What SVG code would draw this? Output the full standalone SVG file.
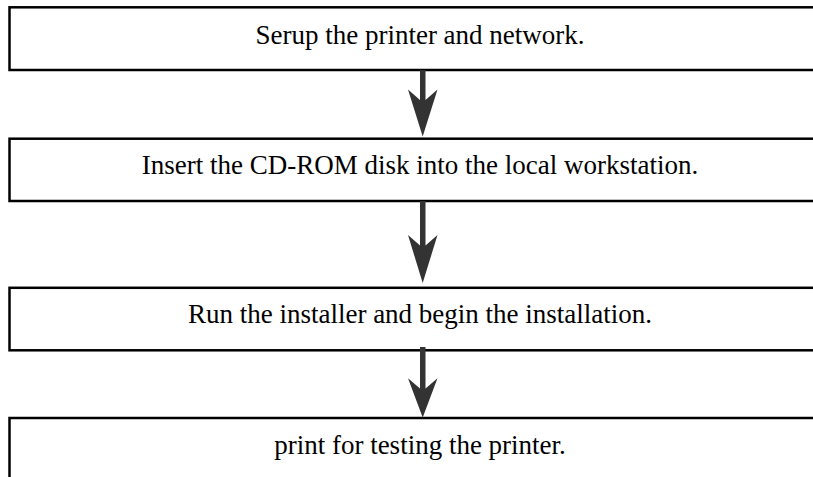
<svg xmlns="http://www.w3.org/2000/svg" width="813" height="477" viewBox="0 0 813 477">
<style>
.box{fill:#fff;stroke:#000;stroke-width:2.5}
.lbl{font-family:"Liberation Serif","Times New Roman",serif;font-size:27px;fill:#000;text-anchor:middle}
.arr{fill:#333;stroke:none}
</style>
<rect width="813" height="477" fill="#fff"/>
<g id="node1"><rect class="box" x="9.5" y="7.3" width="900" height="62.7"/><text class="lbl" x="420" y="44">Serup the printer and network.</text></g>
<g id="node2"><rect class="box" x="9.5" y="138.7" width="900" height="62.3"/><text class="lbl" x="420" y="174">Insert the CD-ROM disk into the local workstation.</text></g>
<g id="node3"><rect class="box" x="9.5" y="287.8" width="900" height="62.5"/><text class="lbl" x="420" y="323">Run the installer and begin the installation.</text></g>
<g id="node4"><rect class="box" x="9.5" y="418" width="900" height="100"/><text class="lbl" x="420" y="454">print for testing the printer.</text></g>
<g id="connectors">
<path class="arr" d="M420 70 H425.5 V100 L437.5 89.5 L422.7 136.5 L408 89.5 L420 100 Z"/>
<path class="arr" d="M420 201 H425.5 V245.5 L437.5 235 L422.7 283 L408 235 L420 245.5 Z"/>
<path class="arr" d="M420 347 H425.5 V388.5 L437.5 378.3 L422.7 417.5 L408 378.3 L420 388.5 Z"/>
</g>
</svg>
